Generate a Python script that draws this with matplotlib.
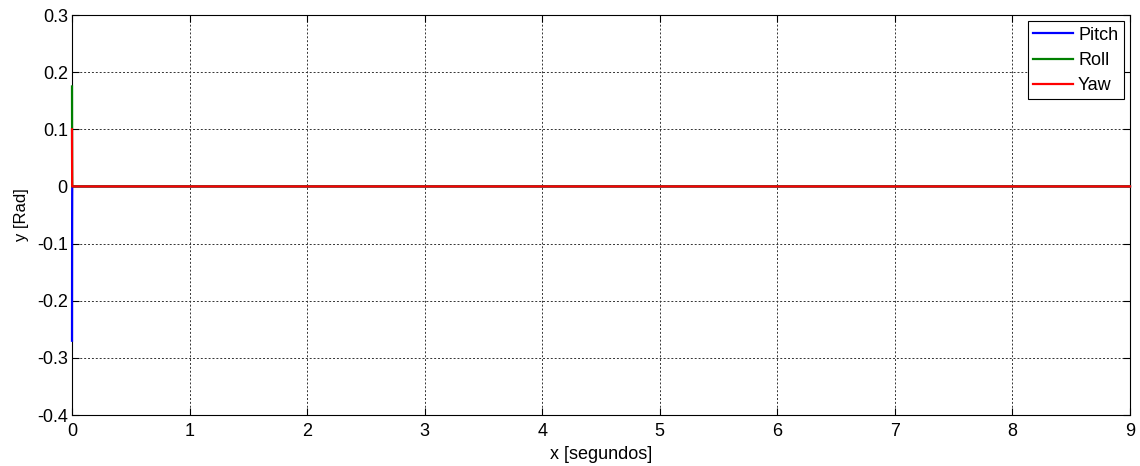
import numpy as np
import matplotlib.pyplot as plt

plt.rcParams['font.family'] = ['Liberation Sans', 'DejaVu Sans']

# time samples (s) and attitude angles (rad)
t = [0.0, 0.0005, 0.001, 0.0015, 0.002, 9.0]
pitch = [-0.27, -0.15, -0.06, -0.015, 0.0, 0.0]
roll = [0.175, 0.1, 0.04, 0.01, 0.0, 0.0]
yaw = [0.1, 0.055, 0.022, 0.006, 0.0, 0.0]

fig = plt.figure(figsize=(11.4, 4.66), dpi=100, facecolor='white')
ax = fig.add_axes([72/1140, 1-415/466, (1130-72)/1140, 400/466])

ax.plot(t, pitch, color='#0000ff', lw=1.6, label='Pitch', clip_on=False, zorder=3)
ax.plot(t, roll, color='#008000', lw=1.6, label='Roll', clip_on=False, zorder=3)
ax.plot(t, yaw, color='#ff0000', lw=1.6, label='Yaw', clip_on=False, zorder=3)

ax.set_xlim(0, 9)
ax.set_ylim(-0.4, 0.3)
ax.set_xticks(np.arange(0, 10, 1))
ax.set_yticks(np.arange(-0.4, 0.31, 0.1))
ax.set_xticklabels([str(i) for i in range(10)])
ax.set_yticklabels(['-0.4', '-0.3', '-0.2', '-0.1', '0', '0.1', '0.2', '0.3'])
ax.tick_params(direction='in', top=True, right=True, labelsize=13, length=5, pad=3)
ax.tick_params(axis='x', pad=6)
ax.grid(True, color='#333333', linestyle=(0, (2, 2)), lw=0.7)
ax.set_axisbelow(True)

ax.set_xlabel('x [segundos]', fontsize=13, labelpad=4)
ax.set_ylabel('y [Rad]', fontsize=12, labelpad=6)

leg = ax.legend(loc='upper right', fontsize=13, fancybox=False, edgecolor='black',
                framealpha=1, handlelength=2.2, borderpad=0.3, labelspacing=0.45,
                handletextpad=0.3, borderaxespad=0.35)
leg.get_frame().set_linewidth(0.8)
leg.set_zorder(5)

fig.savefig('out.png', dpi=100)
